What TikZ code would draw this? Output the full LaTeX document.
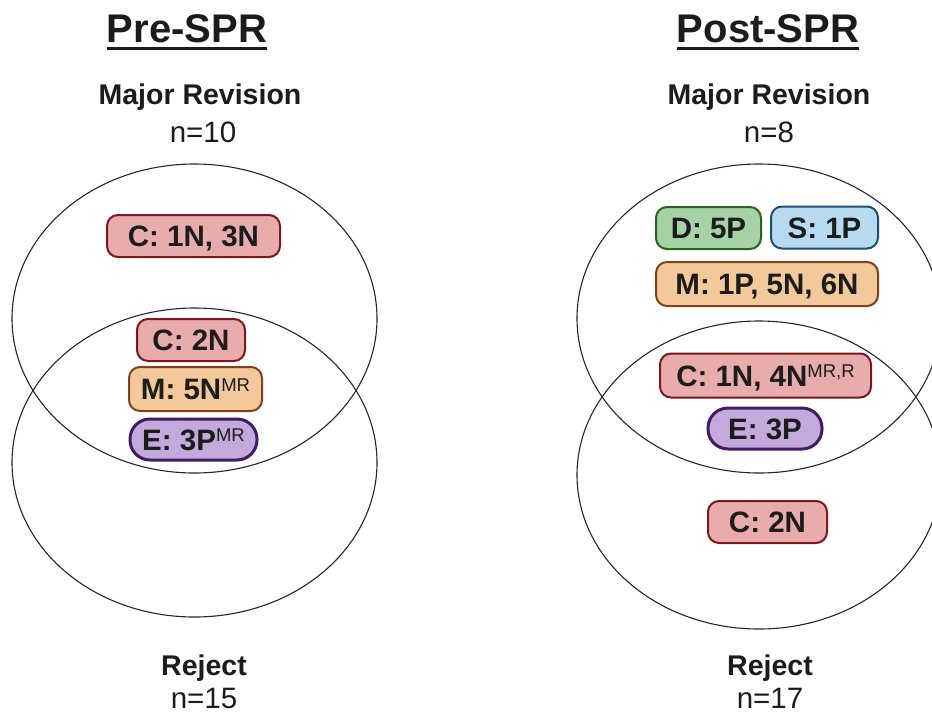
\documentclass[tikz,border=0pt]{standalone}
\usepackage{fontspec}
\setmainfont{Liberation Sans}
\definecolor{txt}{HTML}{1C1C1C}
\definecolor{cfill}{HTML}{E8ACAC}
\definecolor{cdraw}{HTML}{7A181E}
\definecolor{mfill}{HTML}{F3C89B}
\definecolor{mdraw}{HTML}{80401C}
\definecolor{efill}{HTML}{C4AADC}
\definecolor{edraw}{HTML}{401C60}
\definecolor{dfill}{HTML}{A6D2A6}
\definecolor{ddraw}{HTML}{28641E}
\definecolor{sfill}{HTML}{B8DAF0}
\definecolor{sdraw}{HTML}{1E4E6E}
\newcommand{\supx}[1]{\raisebox{8.5pt}{\fontsize{18.5}{18.5}\selectfont\mdseries #1}}
\begin{document}
\begin{tikzpicture}[x=1pt,y=-1pt,
  venn/.style={draw=black!85, line width=1.1pt},
  box/.style={draw, line width=2pt, rounded corners=11pt, inner sep=0pt,
    font=\fontsize{29.5}{29.5}\selectfont\bfseries, text=txt,
    text height=21pt, text depth=0pt, minimum height=42pt},
  cbox/.style={box, fill=cfill, draw=cdraw},
  mbox/.style={box, fill=mfill, draw=mdraw},
  ebox/.style={box, fill=efill, draw=edraw, line width=3pt, rounded corners=20pt},
  dbox/.style={box, fill=dfill, draw=ddraw},
  sbox/.style={box, fill=sfill, draw=sdraw},
  ttl/.style={anchor=base, text=txt, font=\fontsize{40}{40}\selectfont\bfseries, inner sep=0pt},
  lbl/.style={anchor=base, text=txt, font=\fontsize{28.5}{28.5}\selectfont\bfseries, inner sep=0pt},
  cnt/.style={anchor=base, text=txt, font=\fontsize{29.5}{29.5}\selectfont, inner sep=0pt}]
\useasboundingbox (0,0) rectangle (932,713);
% titles
\node[ttl] (pre) at (187,42) {Pre-SPR};
\node[ttl] (post) at (768,42) {Post-SPR};
\draw[txt, line width=3pt] (pre.base west) ++(0,6) -- ([yshift=-6pt]pre.base east);
\draw[txt, line width=3pt] (post.base west) ++(0,6) -- ([yshift=-6pt]post.base east);
% labels
\node[lbl] (mr1) at (200,104) {Major Revision};
\node[cnt] (n1) at (203,142) {n=10};
\node[lbl] (rj1) at (204,675) {Reject};
\node[cnt] (n2) at (204,708) {n=15};
\node[lbl] (mr2) at (769,104) {Major Revision};
\node[cnt] (n3) at (769,142) {n=8};
\node[lbl] (rj2) at (770,675) {Reject};
\node[cnt] (n4) at (770,708) {n=17};
% ellipses
\draw[venn] (194.5,318.5) ellipse [x radius=182.5pt, y radius=154.5pt];
\draw[venn] (194.5,462.5) ellipse [x radius=182.5pt, y radius=154.5pt];
\draw[venn] (759,318.5) ellipse [x radius=182pt, y radius=154.5pt];
\draw[venn] (759,475) ellipse [x radius=182pt, y radius=154pt];
% left boxes
\node[cbox, minimum width=173pt] (c1) at (193.5,236) {C: 1N, 3N};
\node[cbox, minimum width=108pt] (c2) at (191,340) {C: 2N};
\node[mbox, minimum width=133pt, minimum height=44pt] (m1) at (195.5,389) {M: 5N\supx{MR}};
\node[ebox, minimum width=127pt, minimum height=41pt] (e1) at (193.5,439.5) {E: 3P\supx{MR}};
% right boxes
\node[dbox, minimum width=105pt] (d1) at (708.5,228) {D: 5P};
\node[sbox, minimum width=107pt] (s1) at (824.5,227.5) {S: 1P};
\node[mbox, minimum width=222pt, minimum height=44pt] (m2) at (767,284) {M: 1P, 5N, 6N};
\node[cbox, minimum width=211pt, minimum height=44pt] (c3) at (765.5,375.5) {C: 1N, 4N\supx{MR,R}};
\node[ebox, minimum width=114pt, minimum height=41pt] (e2) at (765,428.5) {E: 3P};
\node[cbox, minimum width=119pt] (c4) at (767.5,522) {C: 2N};
\end{tikzpicture}
\end{document}
